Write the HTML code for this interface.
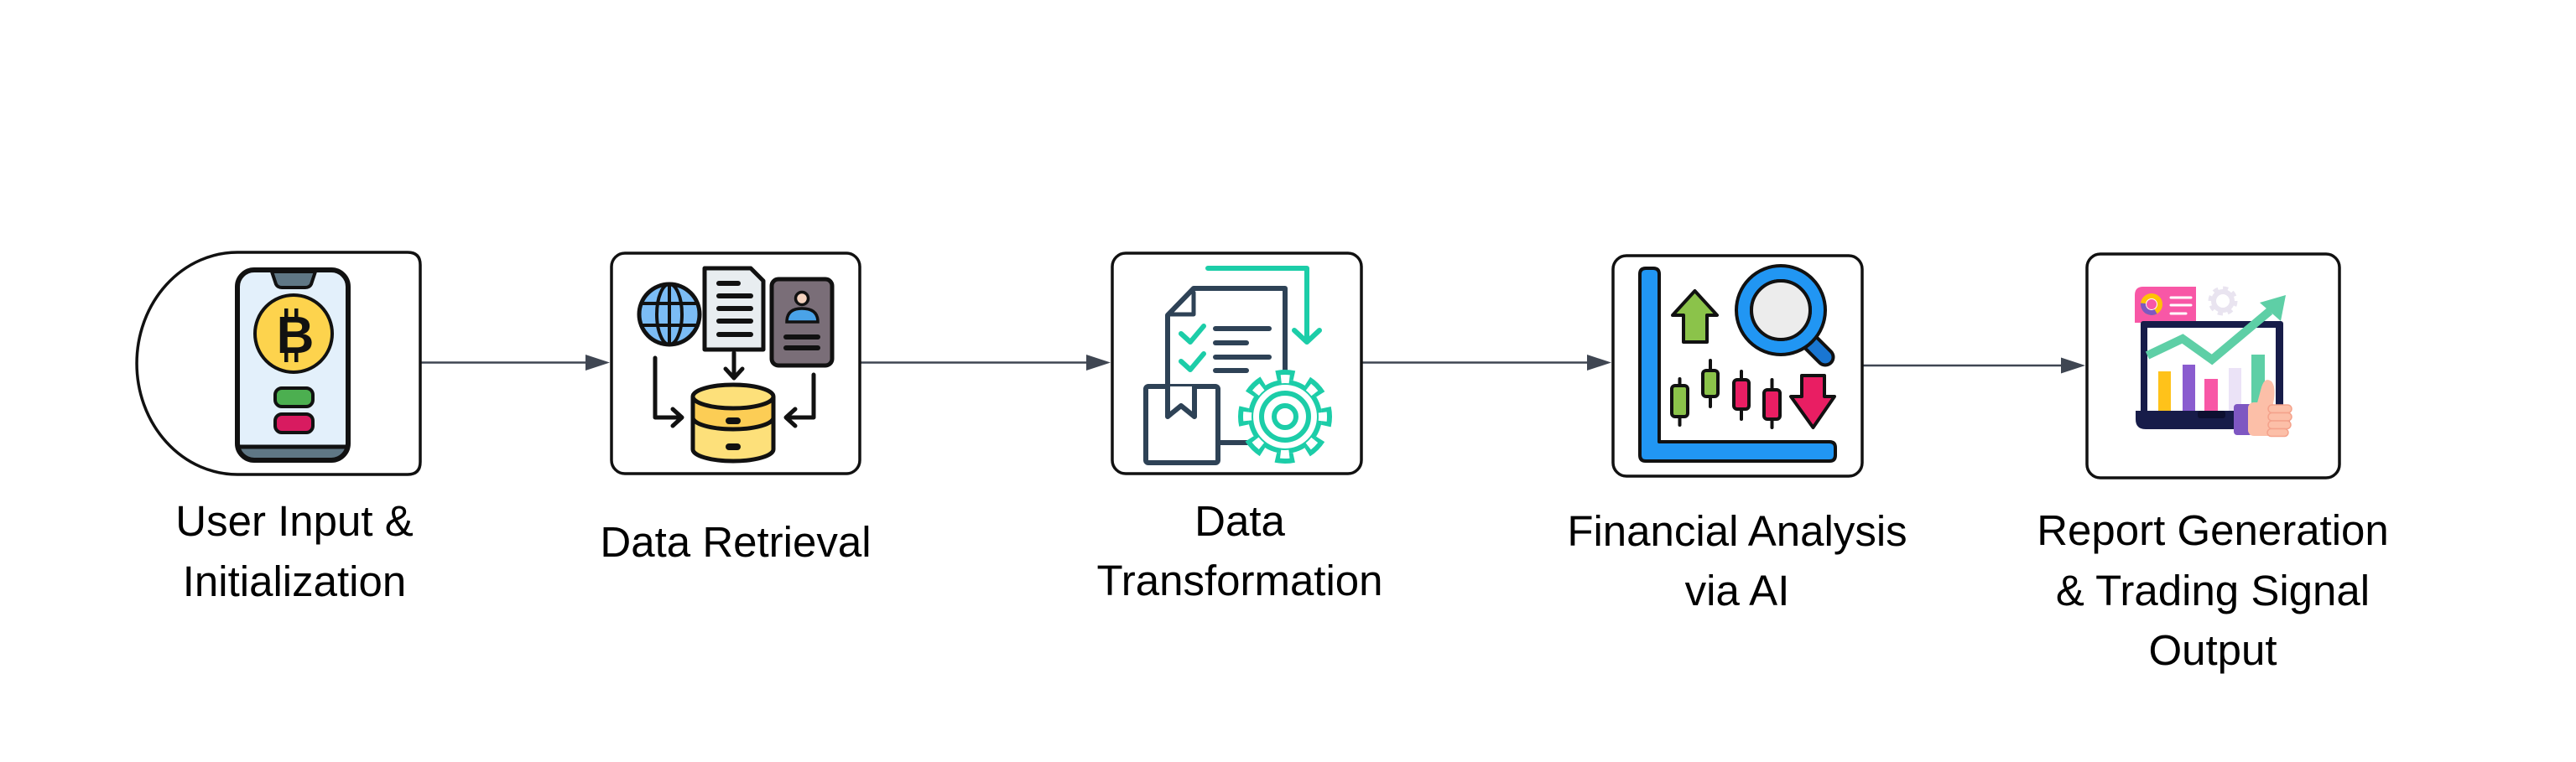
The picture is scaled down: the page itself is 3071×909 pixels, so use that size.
<!DOCTYPE html>
<html>
<head>
<meta charset="utf-8">
<style>
  html, body { margin: 0; padding: 0; background: #ffffff; }
  body { width: 3071px; height: 909px; overflow: hidden; }
  svg { display: block; }
  .lbl { font-family: "Liberation Sans", Arial, sans-serif; font-size: 51px; fill: #000; text-anchor: middle; }
</style>
</head>
<body>
<svg width="3071" height="909" viewBox="0 0 3071 909" xmlns="http://www.w3.org/2000/svg">
  <defs>
    <clipPath id="phoneClip"><rect x="283" y="322" width="132" height="227" rx="20"/></clipPath>
    <clipPath id="globeClip"><ellipse cx="798" cy="375" rx="36" ry="36"/></clipPath>
  </defs>
  <rect width="3071" height="909" fill="#ffffff"/>

  <!-- ============ Connectors ============ -->
  <g stroke="#3f4652" stroke-width="2.6" fill="none">
    <line x1="502" y1="432.5" x2="700" y2="432.5"/>
    <line x1="1026" y1="432.5" x2="1297" y2="432.5"/>
    <line x1="1624" y1="432.5" x2="1894" y2="432.5"/>
    <line x1="2221" y1="436" x2="2459" y2="436"/>
  </g>
  <g fill="#3f4652">
    <polygon points="727,432.5 698,423 698,442"/>
    <polygon points="1324,432.5 1295,423 1295,442"/>
    <polygon points="1921,432.5 1892,423 1892,442"/>
    <polygon points="2486,436 2457,426.5 2457,445.5"/>
  </g>

  <!-- ============ Node shapes ============ -->
  <g fill="#ffffff" stroke="#111" stroke-width="3.5">
    <path d="M283 301 L486 301 Q501 301 501 316 L501 551 Q501 566 486 566 L283 566 A120 132.5 0 0 1 283 301 Z"/>
    <rect x="729" y="302" width="296" height="263" rx="16"/>
    <rect x="1326" y="302" width="297" height="263" rx="16"/>
    <rect x="1923" y="305" width="297" height="263" rx="16"/>
    <rect x="2488" y="303" width="301" height="267" rx="16"/>
  </g>

  <!-- ============ Node 1 icon: phone with bitcoin ============ -->
  <g>
    <rect x="283" y="322" width="132" height="227" rx="20" fill="#e3f0fb"/>
    <g clip-path="url(#phoneClip)">
      <rect x="280" y="533" width="140" height="20" fill="#5f7785"/>
      <line x1="280" y1="533" x2="420" y2="533" stroke="#111" stroke-width="5"/>
    </g>
    <path d="M324 324 L376 324 L371 339 Q369 343 364 343 L336 343 Q331 343 329 339 Z" fill="#5f7785" stroke="#111" stroke-width="4" stroke-linejoin="round"/>
    <rect x="283" y="322" width="132" height="227" rx="20" fill="none" stroke="#111" stroke-width="6"/>
    <circle cx="350" cy="398" r="46" fill="#fdd34d" stroke="#111" stroke-width="4"/>
    <text x="352" y="421" font-family="Liberation Sans, Arial, sans-serif" font-weight="bold" font-size="62" text-anchor="middle" fill="#111">B</text>
    <rect x="339" y="368" width="4.5" height="11" fill="#111"/>
    <rect x="351" y="368" width="4.5" height="11" fill="#111"/>
    <rect x="339" y="420" width="4.5" height="12" fill="#111"/>
    <rect x="351" y="420" width="4.5" height="12" fill="#111"/>
    <rect x="328" y="463" width="45" height="22" rx="8" fill="#4caf50" stroke="#111" stroke-width="4"/>
    <rect x="328" y="494" width="45" height="22" rx="8" fill="#d81b60" stroke="#111" stroke-width="4"/>
  </g>

  <!-- ============ Node 2 icon: data retrieval ============ -->
  <g>
    <ellipse cx="798" cy="375" rx="36" ry="36" fill="#7bbcf5"/>
    <g clip-path="url(#globeClip)" stroke="#111" stroke-width="4" fill="none">
      <ellipse cx="798" cy="375" rx="15" ry="36"/>
      <line x1="798" y1="335" x2="798" y2="415"/>
      <line x1="760" y1="362" x2="836" y2="362"/>
      <line x1="760" y1="388" x2="836" y2="388"/>
    </g>
    <ellipse cx="798" cy="375" rx="36" ry="36" fill="none" stroke="#111" stroke-width="5"/>
    <path d="M840 320 H895 L910 335 V417 H840 Z" fill="#e8edf0" stroke="#111" stroke-width="5" stroke-linejoin="round"/>
    <g stroke="#111" stroke-width="6" stroke-linecap="round">
      <line x1="857" y1="338" x2="880" y2="338"/>
      <line x1="857" y1="353" x2="895" y2="353"/>
      <line x1="857" y1="368" x2="895" y2="368"/>
      <line x1="857" y1="383" x2="895" y2="383"/>
      <line x1="857" y1="399" x2="895" y2="399"/>
    </g>
    <rect x="920" y="333" width="72" height="103" rx="8" fill="#7a6e78" stroke="#111" stroke-width="5"/>
    <path d="M938 384 Q938 368 956 368 Q975 368 975 384 Z" fill="#4aa3e8" stroke="#111" stroke-width="3.5"/>
    <circle cx="956" cy="356" r="7.5" fill="#f5d3bf" stroke="#111" stroke-width="3.5"/>
    <g stroke="#111" stroke-width="6" stroke-linecap="round">
      <line x1="937" y1="402" x2="975" y2="402"/>
      <line x1="937" y1="415" x2="975" y2="415"/>
    </g>
    <g stroke="#111" stroke-width="5" fill="none" stroke-linecap="round" stroke-linejoin="round">
      <path d="M875 421 V450"/>
      <path d="M865 440 L875 451 L885 440"/>
      <path d="M781 427 V498 H812"/>
      <path d="M802 488 L813 498 L802 508"/>
      <path d="M970 447 V498 H938"/>
      <path d="M948 488 L937 498 L948 508"/>
    </g>
    <path d="M826 473 V536 A48 14 0 0 0 922 536 V473 Z" fill="#fccd55"/>
    <path d="M826 498 A48 14 0 0 0 922 498 V536 A48 14 0 0 1 826 536 Z" fill="#fde07a"/>
    <path d="M826 498 A48 14 0 0 0 922 498" fill="none" stroke="#111" stroke-width="5"/>
    <path d="M826 473 V536 A48 14 0 0 0 922 536 V473" fill="none" stroke="#111" stroke-width="5"/>
    <ellipse cx="874" cy="473" rx="48" ry="14" fill="#fde07a" stroke="#111" stroke-width="5"/>
    <rect x="865" y="498" width="18" height="8" rx="4" fill="#111"/>
    <rect x="865" y="529" width="18" height="8" rx="4" fill="#111"/>
  </g>

  <!-- ============ Node 3 icon: data transformation ============ -->
  <g fill="none" stroke-linecap="round" stroke-linejoin="round">
    <path d="M1440 320 H1558 V407" stroke="#1ccda8" stroke-width="6"/>
    <path d="M1543 394 L1558 408 L1573 394" stroke="#1ccda8" stroke-width="6"/>
    <path d="M1392 461 V376 L1423 344 H1532 V443" stroke="#2e4256" stroke-width="6"/>
    <path d="M1423 349 V375 H1395" stroke="#2e4256" stroke-width="5"/>
    <polyline points="1408,398 1419,408 1435,389" stroke="#1ccda8" stroke-width="6"/>
    <polyline points="1408,431 1419,441 1435,422" stroke="#1ccda8" stroke-width="6"/>
    <g stroke="#2e4256" stroke-width="6">
      <line x1="1449" y1="392" x2="1513" y2="392"/>
      <line x1="1449" y1="409" x2="1486" y2="409"/>
      <line x1="1449" y1="426" x2="1513" y2="426"/>
      <line x1="1449" y1="442" x2="1486" y2="442"/>
    </g>
    <rect x="1366" y="461" width="86" height="91" rx="3" fill="#ffffff" stroke="#2e4256" stroke-width="6"/>
    <path d="M1392 461 V497 L1408 484 L1424 497 V461" fill="#ffffff" stroke="#2e4256" stroke-width="6"/>
    <line x1="1452" y1="528" x2="1492" y2="528" stroke="#2e4256" stroke-width="6"/>
    <g transform="translate(1532 497)">
      <circle r="44" fill="#1ccda8" stroke="none"/>
      <circle r="50" fill="none" stroke="#1ccda8" stroke-width="12" stroke-dasharray="22 17.27" stroke-dashoffset="11" stroke-linecap="butt" transform="rotate(-90)"/>
      <circle r="38" fill="#ffffff" stroke="none"/>
      <circle r="45" fill="none" stroke="#ffffff" stroke-width="10" stroke-dasharray="10.5 24.84" stroke-dashoffset="5.25" stroke-linecap="butt" transform="rotate(-90)"/>
      <circle r="28" fill="none" stroke="#1ccda8" stroke-width="6"/>
      <circle r="13" fill="none" stroke="#1ccda8" stroke-width="6"/>
    </g>
  </g>

  <!-- ============ Node 4 icon: financial analysis ============ -->
  <g stroke="#111" stroke-linejoin="round">
    <path d="M1955 327 Q1955 320 1962 320 H1971 Q1978 320 1978 327 V527 H2181 Q2188 527 2188 534 V543 Q2188 550 2181 550 H1962 Q1955 550 1955 543 Z" fill="#2196f3" stroke-width="4"/>
    <polygon points="2020.5,347 2047,376 2035,376 2035,408 2007,408 2007,376 1994,376" fill="#8bc34a" stroke-width="4"/>
    <line x1="2155" y1="405" x2="2176" y2="426" stroke="#111" stroke-width="23" stroke-linecap="round"/>
    <line x1="2155" y1="405" x2="2176" y2="426" stroke="#1976d2" stroke-width="15" stroke-linecap="round"/>
    <circle cx="2123" cy="370" r="44" fill="none" stroke="#111" stroke-width="22"/>
    <circle cx="2123" cy="370" r="44" fill="none" stroke="#2196f3" stroke-width="14"/>
    <circle cx="2123" cy="370" r="35" fill="#ececec" stroke="#111" stroke-width="4"/>
    <g stroke-width="4" stroke-linecap="round">
      <line x1="2002.5" y1="452" x2="2002.5" y2="507"/>
      <line x1="2039" y1="430" x2="2039" y2="485"/>
      <line x1="2076" y1="443" x2="2076" y2="500"/>
      <line x1="2112.5" y1="453" x2="2112.5" y2="510"/>
    </g>
    <rect x="1993" y="460" width="19" height="37" rx="4" fill="#8bc34a" stroke-width="4"/>
    <rect x="2030" y="442" width="18" height="31" rx="4" fill="#8bc34a" stroke-width="4"/>
    <rect x="2067" y="453" width="18" height="35" rx="4" fill="#e91e63" stroke-width="4"/>
    <rect x="2103" y="465" width="19" height="35" rx="4" fill="#e91e63" stroke-width="4"/>
    <polygon points="2148,448 2175,448 2175,473 2187,473 2161.5,510 2135,473 2148,473" fill="#e91e63" stroke-width="4"/>
  </g>

  <!-- ============ Node 5 icon: report generation ============ -->
  <g>
    <path d="M2545 385 V352 Q2545 342 2555 342 H2618 V385 Z" fill="#f857a6"/>
    <circle cx="2565" cy="363" r="12" fill="#ffffff"/>
    <circle cx="2565" cy="363" r="10" fill="none" stroke="#ffc107" stroke-width="6"/>
    <circle cx="2565" cy="363" r="10" fill="none" stroke="#7e57c2" stroke-width="6" stroke-dasharray="22 100" transform="rotate(60 2565 363)"/>
    <circle cx="2565" cy="363" r="6" fill="#f857a6"/>
    <g stroke="#ffffff" stroke-width="3" stroke-linecap="round">
      <line x1="2588" y1="355" x2="2612" y2="355"/>
      <line x1="2588" y1="364" x2="2612" y2="364"/>
      <line x1="2588" y1="374" x2="2606" y2="374"/>
    </g>
    <circle cx="2650" cy="359" r="11" fill="none" stroke="#e9e4f0" stroke-width="6"/>
    <circle cx="2650" cy="359" r="15" fill="none" stroke="#e9e4f0" stroke-width="5" stroke-dasharray="6 5.78"/>
    <rect x="2552" y="383" width="170" height="110" rx="3" fill="#171c49"/>
    <rect x="2560" y="391" width="153" height="99" fill="#ffffff"/>
    <rect x="2573" y="443" width="15" height="47" fill="#ffc21a"/>
    <rect x="2602" y="435" width="15" height="55" fill="#8a5ccf"/>
    <rect x="2628" y="452" width="16" height="38" fill="#f857a6"/>
    <rect x="2657" y="439" width="15" height="51" fill="#ebe3f7"/>
    <rect x="2684" y="423" width="16" height="67" fill="#5ecfa6"/>
    <polyline points="2560,424 2602,404 2637,429 2706,371" fill="none" stroke="#5ecfa6" stroke-width="10" stroke-linejoin="miter"/>
    <polygon points="2725,352 2719,383 2694,361" fill="#5ecfa6"/>
    <path d="M2546 490 H2730 V500 Q2730 512 2718 512 H2558 Q2546 512 2546 500 Z" fill="#171c49"/>
    <rect x="2620" y="490" width="33" height="9" rx="3" fill="#0d1030"/>
    <rect x="2663" y="482" width="22" height="37" rx="4" fill="#7e57c2"/>
    <rect x="2680" y="480" width="32" height="40" rx="7" fill="#fcbfa8"/>
    <path d="M2689 488 L2696 462 Q2700 449 2708 455 Q2713 461 2711 476 L2709 486 Z" fill="#fcbfa8"/>
    <g fill="#fcbfa8" stroke="#f4a28b" stroke-width="1.5">
      <rect x="2704" y="483" width="28" height="9.5" rx="4.7"/>
      <rect x="2704" y="492.5" width="28" height="9.5" rx="4.7"/>
      <rect x="2704" y="502" width="27" height="9.5" rx="4.7"/>
      <rect x="2703" y="511.5" width="25" height="9" rx="4.5"/>
    </g>
  </g>

  <!-- ============ Labels ============ -->
  <text class="lbl" x="351" y="639">User Input &amp;</text>
  <text class="lbl" x="351" y="711">Initialization</text>

  <text class="lbl" x="877" y="664">Data Retrieval</text>

  <text class="lbl" x="1478" y="639">Data</text>
  <text class="lbl" x="1478" y="710">Transformation</text>

  <text class="lbl" x="2071" y="651">Financial Analysis</text>
  <text class="lbl" x="2071" y="722">via AI</text>

  <text class="lbl" x="2638" y="650">Report Generation</text>
  <text class="lbl" x="2638" y="722">&amp; Trading Signal</text>
  <text class="lbl" x="2638" y="793">Output</text>
</svg>
</body>
</html>
